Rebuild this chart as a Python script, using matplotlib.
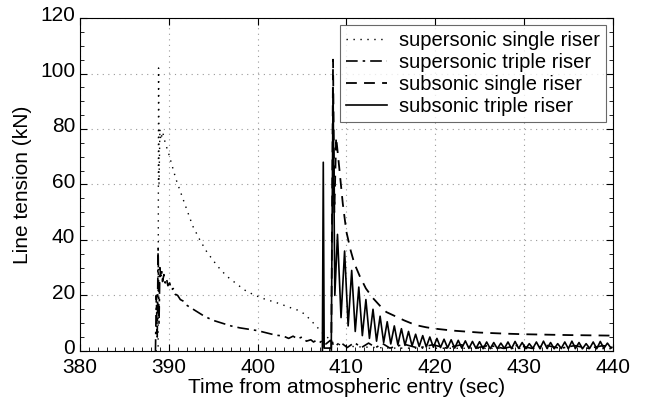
import matplotlib
matplotlib.use('Agg')
import matplotlib.pyplot as plt
import matplotlib.ticker as ticker
import matplotlib.transforms as mtransforms

plt.rcParams['font.family'] = ['Liberation Sans', 'DejaVu Sans']

# supersonic single riser (dotted)
sup_single_t = [388.5, 388.8, 388.85, 388.9, 389.0, 389.1, 389.3, 389.6, 390.0, 390.8,
                391.8, 392.7, 393.5, 394.3, 395.5, 396.5, 397.5, 398.5, 399.4, 400.5,
                401.5, 402.5, 403.5, 404.5, 405.3, 406.0, 406.7, 407.3, 408.0, 408.5,
                409.5, 411.0, 415.0, 440.0]
sup_single_v = [0, 0, 102, 60, 80, 76, 79, 75, 71, 62,
                53, 45, 40, 35.6, 30.5, 27, 24.5, 22, 20.5, 19,
                18, 17, 15.8, 14.7, 13.3, 11, 8.6, 6.5, 4.5, 3,
                2, 1.5, 1, 0.8]

# supersonic triple riser (dash-dot)
sup_triple_t = [388.5, 388.6, 388.7, 388.8, 388.9, 389.0, 389.1, 389.2, 389.3, 389.45,
                389.6, 389.75, 389.9, 390.1, 390.3, 390.5, 390.7, 391.0, 391.3, 391.6,
                392.0, 392.5, 393.0, 394.0, 395.0, 396.0, 397.0, 398.0, 399.0, 400.0,
                401.0, 402.0, 402.5, 403.0, 403.5, 404.0, 404.5, 405.0, 405.5, 406.0,
                406.3, 406.6, 407.0, 407.3, 407.7, 408.2, 408.7, 409.3, 410.1, 410.9,
                411.7, 412.5, 413.3, 414.1, 414.9, 416.5, 418.1, 419.7, 421.3, 422.9,
                424.5, 426.1, 427.7, 429.3, 430.9, 432.5, 434.1, 435.7, 437.3, 438.9,
                440.0]
sup_triple_v = [0, 20, 5, 37, 10, 30, 27, 29, 25, 27.5,
                24.5, 26, 23.5, 24.5, 22, 22.5, 20.5, 20, 18.5, 18,
                16.5, 15.5, 14.5, 12.5, 11, 10, 9, 8.3, 7.8, 7.3,
                6.5, 5.7, 5.5, 5.2, 4.5, 5.3, 4.3, 5.0, 3.5, 4.0,
                3.2, 3.8, 3.0, 3.7, 2.5, 3.8, 1.5, 3.2, 1.2, 3.0,
                1.2, 2.8, 1.2, 2.6, 1.0, 2.4, 1.0, 2.2, 1.0, 2.2,
                1.0, 2.0, 0.9, 2.0, 0.9, 2.0, 0.9, 1.9, 0.9, 1.9,
                1.2]

# subsonic single riser (dashed)
sub_single_t = [408.3, 408.5, 408.65, 408.85, 409.2, 409.6, 410.0, 410.5, 410.9, 411.5,
                412.2, 413.0, 414.0, 414.5, 415.5, 416.5, 417.8, 419.0, 420.0, 422.0,
                425.0, 428.0, 430.0, 435.0, 440.0]
sub_single_v = [0, 105, 50, 77, 66, 53, 43, 36, 31.5, 27,
                22.5, 19, 15.5, 14, 12.5, 11, 9.3, 8.5, 8, 7.3,
                6.6, 6.2, 6, 5.7, 5.5]

# subsonic triple riser (solid)
sub_triple_t = [407.3, 407.4, 407.5, 408.3, 408.5, 408.7,
                409.0, 409.4, 409.8, 410.2, 410.6, 411.0, 411.4, 411.8, 412.2, 412.6,
                413.0, 413.4, 413.8, 414.2, 414.6, 415.0, 415.4, 415.8, 416.2, 416.6,
                417.0, 417.4, 417.8, 418.2, 418.6, 419.0, 419.4, 419.8, 420.2, 420.6,
                421.0, 421.4, 421.8, 422.2, 422.6, 423.0, 423.4, 423.8, 424.2, 424.6,
                425.0, 425.4, 425.8, 426.2, 426.6, 427.0, 427.4, 427.8, 428.2, 428.6,
                429.0, 429.4, 429.8, 430.2, 430.6, 431.0, 431.4, 431.8, 432.2, 432.6,
                433.0, 433.4, 433.8, 434.2, 434.6, 435.0, 435.4, 435.8, 436.2, 436.6,
                437.0, 437.4, 437.8, 438.2, 438.6, 439.0, 439.4, 439.8]
sub_triple_v = [0, 68, 1, 1, 95, 20,
                42, 12, 36, 9, 29, 7, 23, 5.5, 18.5, 4.5,
                15, 3.5, 12.5, 3, 10.5, 2.5, 9, 2.2, 8, 2,
                7, 1.8, 6, 1.6, 5.5, 1.4, 5, 1.3, 4.5, 1.2,
                4.2, 1.1, 4, 1.0, 3.8, 1.0, 3.6, 0.9, 3.4, 0.9,
                3.3, 0.8, 3.2, 0.8, 3.0, 0.8, 2.8, 0.9, 3.2, 0.8,
                3.4, 0.9, 3.0, 0.8, 2.6, 0.9, 3.2, 0.8, 3.5, 0.9,
                3.0, 0.8, 2.6, 0.9, 3.2, 0.8, 3.5, 0.9, 3.0, 0.8,
                2.6, 0.9, 3.2, 0.8, 3.4, 0.9, 2.8, 1.0]

labels = ['supersonic single riser', 'supersonic triple riser',
          'subsonic single riser', 'subsonic triple riser']

fig = plt.figure(figsize=(6.45, 4.01), dpi=100)
ax = fig.add_axes([0.124, 0.125, 0.826, 0.830])

ax.plot(sup_single_t, sup_single_v, color='black', linestyle=(0, (1, 4)),
        linewidth=1.0, label=labels[0])
ax.plot(sup_triple_t, sup_triple_v, color='black', linestyle=(0, (7, 3, 1.5, 3)),
        linewidth=1.2, label=labels[1])
ax.plot(sub_single_t, sub_single_v, color='black', linestyle=(0, (6, 4)),
        linewidth=1.3, label=labels[2])
ax.plot(sub_triple_t, sub_triple_v, color='black', linestyle='-',
        linewidth=1.2, label=labels[3])

ax.set_xlim(380, 440)
ax.set_ylim(0, 120)
ax.set_xticks([380, 390, 400, 410, 420, 430, 440])
ax.set_yticks([0, 20, 40, 60, 80, 100, 120])
ax.xaxis.set_minor_locator(ticker.MultipleLocator(1))
ax.yaxis.set_minor_locator(ticker.MultipleLocator(5))
ax.tick_params(which='major', direction='in', length=5, labelsize=15,
               top=True, right=True)
ax.tick_params(axis='x', which='major', pad=5)
ax.tick_params(which='minor', direction='in', length=3, top=False, right=True)
ax.grid(True, which='major', linestyle=(0, (1, 4)), color='#999999', linewidth=0.8)

# nudge y tick labels up a little so "0" clears "380"
shift = mtransforms.ScaledTranslation(0, 3 / 72, fig.dpi_scale_trans)
for lbl in ax.get_yticklabels():
    lbl.set_transform(lbl.get_transform() + shift)

ax.set_xlabel('Time from atmospheric entry (sec)', fontsize=15, labelpad=1)
ax.set_ylabel('Line tension (kN)', fontsize=15, labelpad=6)

leg = ax.legend(loc='upper right', fontsize=14.5, frameon=True, fancybox=False,
                handlelength=2.0, handletextpad=0.6, borderaxespad=0.35,
                labelspacing=0.15, borderpad=0.3)
leg.get_frame().set_edgecolor('#444444')
leg.get_frame().set_linewidth(0.8)

fig.savefig('out.png', dpi=100)
